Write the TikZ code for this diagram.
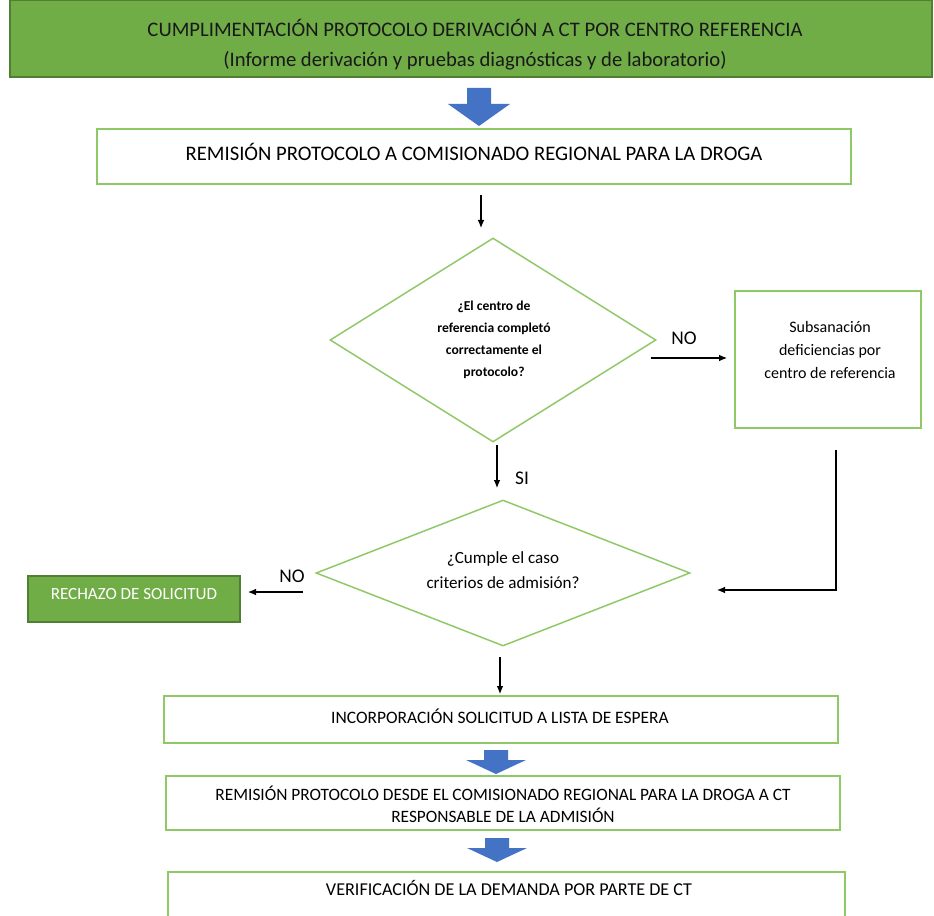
\documentclass[tikz,border=0pt]{standalone}
\usepackage{fontspec}
\setmainfont{Carlito}
\usetikzlibrary{arrows.meta,shapes.geometric}
\definecolor{gfill}{HTML}{70AD47}
\definecolor{gdark}{HTML}{507E32}
\definecolor{gline}{HTML}{8FC866}
\definecolor{bblue}{HTML}{4472C4}
\tikzset{
  box/.style={draw=gline, line width=1.1pt, fill=white, inner sep=0pt},
  gbox/.style={draw=gdark, line width=1pt, fill=gfill, inner sep=0pt},
  dia/.style={diamond, draw=gline, line width=1.1pt, inner sep=0pt},
  txt/.style={inner sep=0pt, align=center},
  arr/.style={-{Latex[length=6pt,width=5pt]}, line width=0.8pt},
  lbl/.style={inner sep=0pt, font=\fontsize{14.5}{16}\selectfont},
  blockarrow/.style={fill=bblue, draw=none},
}
\begin{document}
\begin{tikzpicture}[x=0.75pt,y=-0.75pt]
\clip (0,0) rectangle (934,916);
\fill[white] (0,0) rectangle (934,916);

% top green box
\node[gbox, minimum width=691.5pt, minimum height=57.75pt] (top) at (471,38.5) {};
\node[txt, text=black!90, font=\fontsize{15.5}{22.5}\selectfont] (toptxt) at (475,45)
  {CUMPLIMENTACIÓN PROTOCOLO DERIVACIÓN A CT POR CENTRO REFERENCIA\\(Informe derivación y pruebas diagnósticas y de laboratorio)};

% block arrow 1
\path[blockarrow] (467,88) -- (491,88) -- (491,104) -- (510,104) -- (479,126) -- (448,104) -- (467,104) -- cycle;

% box 2
\node[box, minimum width=565.5pt, minimum height=41.25pt] (b2) at (474,156.5) {};
\node[txt, font=\fontsize{15.5}{18}\selectfont] (b2txt) at (474,152) {REMISIÓN PROTOCOLO A COMISIONADO REGIONAL PARA LA DROGA};

\coordinate (a1s) at (481,195);
\coordinate (a1e) at (481,228);
\draw[arr] (a1s) -- (a1e);

% diamond 1
\node[dia, minimum width=244.5pt, minimum height=153pt] (d1) at (493,340) {};
\node[txt, font=\fontsize{10.2}{16.5}\bfseries\selectfont] (d1txt) at (494,340)
  {¿El centro de\\referencia completó\\correctamente el\\protocolo?};

% right box
\node[box, minimum width=139.5pt, minimum height=102.75pt] (rb) at (828,359.5) {};
\node[txt, font=\fontsize{12}{17.5}\selectfont] (rbtxt) at (830,350)
  {Subsanación\\deficiencias por\\centro de referencia};

\coordinate (nos) at (651,358);
\coordinate (noe) at (727,358);
\draw[arr] (nos) -- (noe);
\node[lbl] (no1) at (684,338) {NO};

\coordinate (sis) at (497,445);
\coordinate (sie) at (497,488);
\draw[arr] (sis) -- (sie);
\node[lbl] (si) at (522,478) {SI};

% diamond 2
\node[dia, minimum width=280.5pt, minimum height=109.5pt] (d2) at (503,573) {};
\node[txt, font=\fontsize{12.8}{19}\selectfont] (d2txt) at (503,570)
  {¿Cumple el caso\\criterios de admisión?};

% loop back
\coordinate (ls) at (836,450);
\coordinate (lc) at (836,590);
\coordinate (le) at (717,590);
\draw[arr] (ls) -- (lc) -- (le);

% rechazo
\node[gbox, minimum width=159pt, minimum height=34.5pt] (rech) at (134,599) {};
\node[txt, text=white, font=\fontsize{12.8}{14}\selectfont] (rechtxt) at (134,594) {RECHAZO DE SOLICITUD};
\coordinate (n2s) at (303,592);
\coordinate (n2e) at (248,592);
\draw[arr] (n2s) -- (n2e);
\node[lbl] (no2) at (292,576) {NO};

\coordinate (a3s) at (500,657);
\coordinate (a3e) at (500,694);
\draw[arr] (a3s) -- (a3e);

% incorporación
\node[box, minimum width=505.5pt, minimum height=35.25pt] (inc) at (501,719.5) {};
\node[txt, font=\fontsize{13.1}{14}\selectfont] (inctxt) at (500,716) {INCORPORACIÓN SOLICITUD A LISTA DE ESPERA};

\path[blockarrow] (484,750) -- (508,750) -- (508,760) -- (526,760) -- (496,774) -- (466,760) -- (484,760) -- cycle;

% remisión desde
\node[box, minimum width=505.5pt, minimum height=40.5pt] (rem) at (503,803) {};
\node[txt, font=\fontsize{13}{16.5}\selectfont] (remtxt) at (503,804)
  {REMISIÓN PROTOCOLO DESDE EL COMISIONADO REGIONAL PARA LA DROGA A CT\\RESPONSABLE DE LA ADMISIÓN};

\path[blockarrow] (485,838) -- (509,838) -- (509,848) -- (527,848) -- (497,862) -- (467,848) -- (485,848) -- cycle;

% verificación
\node[box, minimum width=507.75pt, minimum height=45pt] (ver) at (506.5,902) {};
\node[txt, font=\fontsize{13.6}{15}\selectfont] (vertxt) at (509,888) {VERIFICACIÓN DE LA DEMANDA POR PARTE DE CT};
\end{tikzpicture}
\end{document}
